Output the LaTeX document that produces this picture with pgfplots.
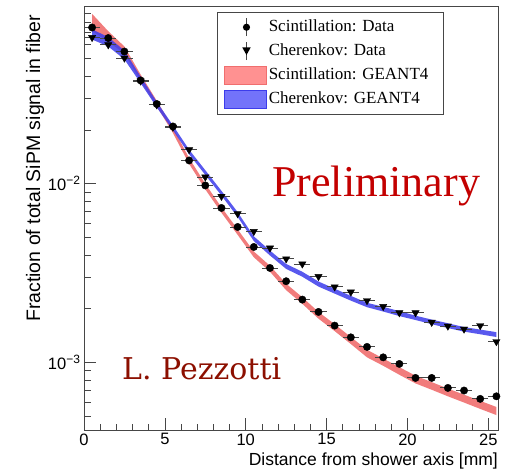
\documentclass[border=0pt]{standalone}
\usepackage{fontspec}
\setmainfont{Liberation Sans}
\newfontfamily\tnr{Liberation Serif}
\newfontfamily\slab{DejaVu Serif}
\usepackage{pgfplots}
\pgfplotsset{compat=1.18}
\usepackage{pgfplotstable}
\usepgfplotslibrary{fillbetween}

\definecolor{scintband}{RGB}{240,110,110}
\definecolor{cherband}{RGB}{60,60,235}
\definecolor{scintleg}{RGB}{255,145,145}
\definecolor{cherleg}{RGB}{115,115,250}
\definecolor{prelim}{RGB}{195,0,0}
\definecolor{author}{RGB}{140,15,0}
\definecolor{framegray}{RGB}{70,70,70}

% GEANT4 bands: lower and upper edge per 1 mm bin
\pgfplotstableread{
x     lo        hi
0.5   0.0715    0.0890
1.5   0.0622    0.0712
2.5   0.0535    0.0585
3.5   0.0375    0.0408
4.5   0.0271    0.0291
5.5   0.0192    0.0206
6.5   0.0129    0.0139
7.5   0.0093    0.0100
8.5   0.00688   0.00738
9.5   0.00518   0.00556
10.5  0.00388   0.00418
11.5  0.00322   0.00348
12.5  0.00254   0.00276
13.5  0.00213   0.00232
14.5  0.00176   0.00192
15.5  0.00150   0.00164
16.5  0.00127   0.00139
17.5  0.00107   0.00118
18.5  0.000960  0.001055
19.5  0.000855  0.000943
20.5  0.000765  0.000845
21.5  0.000705  0.000778
22.5  0.000648  0.000716
23.5  0.000598  0.000662
24.5  0.000551  0.000611
25.5  0.000509  0.000565
}\scintsim

\pgfplotstableread{
x     lo        hi
0.5   0.0640    0.0730
1.5   0.0585    0.0660
2.5   0.0495    0.0555
3.5   0.0365    0.0398
4.5   0.0267    0.0287
5.5   0.0199    0.0212
6.5   0.0146    0.0155
7.5   0.0112    0.0119
8.5   0.00858   0.00912
9.5   0.00652   0.00694
10.5  0.00478   0.00508
11.5  0.00397   0.00423
12.5  0.00334   0.00356
13.5  0.00302   0.00322
14.5  0.00266   0.00284
15.5  0.00243   0.00259
16.5  0.00222   0.00236
17.5  0.00204   0.00216
18.5  0.00193   0.00205
19.5  0.00182   0.00194
20.5  0.00173   0.00183
21.5  0.00164   0.00174
22.5  0.00156   0.00166
23.5  0.00149   0.00158
24.5  0.00144   0.00153
25.5  0.00139   0.00148
}\chersim

% Measured fractions
\pgfplotstableread{
x     y
0.5   0.0747
1.5   0.0652
2.5   0.0548
3.5   0.0378
4.5   0.0279
5.5   0.0209
6.5   0.01349
7.5   0.00978
8.5   0.00732
9.5   0.00573
10.5  0.00443
11.5  0.00338
12.5  0.00285
13.5  0.00225
14.5  0.00192
15.5  0.00161
16.5  0.001384
17.5  0.001224
18.5  0.00107
19.5  0.000983
20.5  0.000821
21.5  0.000821
22.5  0.000722
23.5  0.000698
24.5  0.000627
25.5  0.000648
}\scintdata

\pgfplotstableread{
x     y
0.5   0.0657
1.5   0.0598
2.5   0.0504
3.5   0.0375
4.5   0.0276
5.5   0.0207
6.5   0.01549
7.5   0.0109
8.5   0.0085
9.5   0.0068
10.5  0.00541
11.5  0.00437
12.5  0.0038
13.5  0.00356
14.5  0.00303
15.5  0.00265
16.5  0.00248
17.5  0.00222
18.5  0.00206
19.5  0.00190
20.5  0.00190
21.5  0.00168
22.5  0.00160
23.5  0.00154
24.5  0.00161
25.5  0.00131
}\cherdata

\begin{document}
\begin{tikzpicture}
\begin{axis}[
  scale only axis,
  width=414pt, height=424pt,
  xmin=0, xmax=25.6,
  ymode=log, ymin=4.2e-4, ymax=0.0985,
  xtick={0,5,...,25}, minor x tick num=4,
  ytick={0.001,0.01},
  yticklabels={10\textsuperscript{\fontsize{12}{12}\selectfont −3},10\textsuperscript{\fontsize{12}{12}\selectfont −2}},
  minor ytick={5e-4,6e-4,7e-4,8e-4,9e-4,2e-3,3e-3,4e-3,5e-3,6e-3,7e-3,8e-3,9e-3,2e-2,3e-2,4e-2,5e-2,6e-2,7e-2,8e-2,9e-2},
  xtick pos=bottom, ytick pos=left,
  tick align=inside,
  major tick length=12pt, minor tick length=6.5pt,
  axis line style={framegray, line width=0.8pt},
  tick style={framegray, line width=0.7pt},
  /pgf/number format/assume math mode=true,
  ticklabel style={font=\fontsize{16.5}{18}\selectfont},
  xlabel={Distance from shower axis [mm]},
  xlabel style={at={(axis description cs:1,0)}, anchor=north east, inner sep=0pt, yshift=-23pt, font=\fontsize{17.5}{20}\selectfont},
  ylabel={Fraction of total SiPM signal in fiber},
  ylabel style={at={(axis description cs:-0.118,0.979)}, anchor=east, inner sep=0pt, font=\fontsize{19.5}{22}\selectfont},
  legend style={at={(rel axis cs:0.321,0.986)}, anchor=north west,
    draw=framegray, line width=0.6pt, fill=white,
    font=\tnr\fontsize{17}{20}\selectfont,
    inner xsep=7pt, inner ysep=5pt, row sep=4pt,
    nodes={inner sep=2pt, text height=12pt, text depth=4pt},
    /tikz/every even column/.append style={column sep=9pt}},
  legend cell align=left,
]
% legend entries
\addlegendimage{legend image code/.code={
  \path[draw=none] (0pt,0pt) -- (42pt,0pt);
  \draw[framegray, line width=0.9pt] (22pt,-9pt)--(22pt,9pt);
  \fill[black, draw=none] (22pt,0pt) circle (3.6pt);}}
\addlegendentry{\makebox[166pt][l]{Scintillation: Data}}
\addlegendimage{legend image code/.code={
  \path[draw=none] (0pt,0pt) -- (42pt,0pt);
  \draw[framegray, line width=0.9pt] (22pt,-9pt)--(22pt,9pt);
  \fill[black, draw=none] (22pt,-3.8pt)--(26.2pt,3.8pt)--(17.8pt,3.8pt)--cycle;}}
\addlegendentry{Cherenkov: Data}
\addlegendimage{legend image code/.code={
  \fill[scintleg, draw=scintband, line width=0.6pt] (0pt,-9pt) rectangle (42pt,9pt);}}
\addlegendentry{Scintillation: GEANT4}
\addlegendimage{legend image code/.code={
  \fill[cherleg, draw=cherband, line width=0.6pt] (0pt,-9pt) rectangle (42pt,9pt);}}
\addlegendentry{Cherenkov: GEANT4}

% simulation bands
\addplot[name path=sU, draw=none, forget plot] table[x=x, y=hi]{\scintsim};
\addplot[name path=sL, draw=none, forget plot] table[x=x, y=lo]{\scintsim};
\addplot[scintband, fill opacity=0.9, draw=none, forget plot] fill between[of=sU and sL];
\addplot[name path=cU, draw=none, forget plot] table[x=x, y=hi]{\chersim};
\addplot[name path=cL, draw=none, forget plot] table[x=x, y=lo]{\chersim};
\addplot[cherband, fill opacity=0.85, draw=none, forget plot] fill between[of=cU and cL];

% data points with bin-width error bars
\addplot[only marks, mark=*, mark size=3.7pt, black, forget plot,
  error bars/.cd, x dir=both, x fixed=0.5, error mark=none,
  error bar style={framegray, line width=0.9pt}]
  table[x=x, y=y]{\scintdata};
\addplot[only marks, mark=triangle*, mark size=4.2pt, mark options={rotate=180}, black, forget plot,
  error bars/.cd, x dir=both, x fixed=0.5, error mark=none,
  error bar style={framegray, line width=0.9pt}]
  table[x=x, y=y]{\cherdata};

\node[anchor=base west, inner sep=0pt, font=\tnr\fontsize{44}{48}\selectfont, text=prelim]
  at (axis cs:11.63,0.00846) {Preliminary};
\node[anchor=base west, inner sep=0pt, font=\slab\fontsize{30}{34}\selectfont, text=author]
  at (axis cs:2.35,0.000804) {L. Pezzotti};
\end{axis}
\path (-84pt,-38pt) rectangle (425pt,430pt);
\end{tikzpicture}
\end{document}
